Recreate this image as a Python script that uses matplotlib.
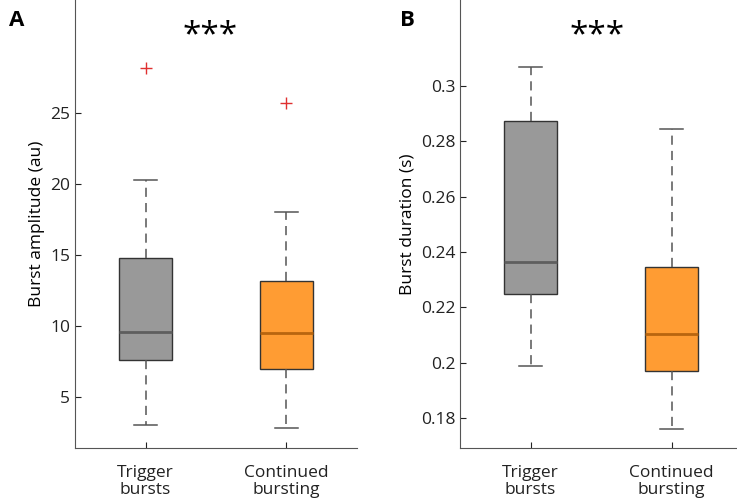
import matplotlib
matplotlib.use("Agg")
import matplotlib.pyplot as plt

categories = ["Trigger\nbursts", "Continued\nbursting"]
amp_stats = [dict(whislo=3.0, q1=7.6, med=9.6, q3=14.8, whishi=20.3, fliers=[28.2]),
             dict(whislo=2.8, q1=7.0, med=9.5, q3=13.2, whishi=18.0, fliers=[25.7])]
dur_stats = [dict(whislo=0.199, q1=0.2248, med=0.2365, q3=0.2875, whishi=0.307, fliers=[]),
             dict(whislo=0.176, q1=0.197, med=0.2103, q3=0.2345, whishi=0.2845, fliers=[])]
amp_ticks = [5, 10, 15, 20, 25]
dur_ticks = [0.18, 0.2, 0.22, 0.24, 0.26, 0.28, 0.3]
dur_ticklabels = ["0.18", "0.2", "0.22", "0.24", "0.26", "0.28", "0.3"]
face = ["#999999", "#ff9c33"]
medc = ["#5e5e5e", "#b8650f"]

plt.rcParams['font.family'] = ['Open Sans', 'DejaVu Sans']
fig = plt.figure(figsize=(7.37, 5.04), dpi=100)
axA = fig.add_axes([75/737, 56/504, 282/737, 448/504])
axB = fig.add_axes([460/737, 56/504, 282/737, 448/504])

def draw(ax, stats):
    for i, s in enumerate(stats):
        s = dict(s)
        ax.bxp([s], positions=[i+1], widths=0.38, patch_artist=True,
               boxprops=dict(facecolor=face[i], edgecolor="#333333", linewidth=1),
               medianprops=dict(color=medc[i], linewidth=2),
               whiskerprops=dict(color="#555555", linestyle=(0, (6, 4)), linewidth=1.1),
               capprops=dict(color="#555555", linewidth=1.1), capwidths=0.16,
               flierprops=dict(marker="+", markeredgecolor="#e03030", markersize=8))
    ax.set_xlim(0.5, 2.5)
    ax.set_xticks([1, 2])
    ax.set_xticklabels(categories, fontsize=12.5, linespacing=1.1)
    for sp in ["top", "right"]:
        ax.spines[sp].set_visible(False)
    for sp in ["left", "bottom"]:
        ax.spines[sp].set_color("#555555")
    ax.tick_params(labelsize=12.5, colors="#222222", length=4, direction="in")
    ax.tick_params(axis="x", pad=12)

draw(axA, amp_stats)
axA.set_ylim(1.41, 32.96)
axA.set_yticks(amp_ticks)
axA.set_ylabel("Burst amplitude (au)", fontsize=12.5)
draw(axB, dur_stats)
axB.set_ylim(0.1692, 0.3311)
axB.set_yticks(dur_ticks)
axB.set_yticklabels(dur_ticklabels)
axB.set_ylabel("Burst duration (s)", fontsize=12.5)

fig.text(210/737, 1-36/504, "***", fontsize=24, ha="center", va="center")
fig.text(597/737, 1-36/504, "***", fontsize=24, ha="center", va="center")
fig.text(17/737, 1-20/504, "A", fontsize=16, fontweight="bold", ha="center", va="center")
fig.text(407/737, 1-20/504, "B", fontsize=16, fontweight="bold", ha="center", va="center")
fig.savefig("out.png", dpi=100)
